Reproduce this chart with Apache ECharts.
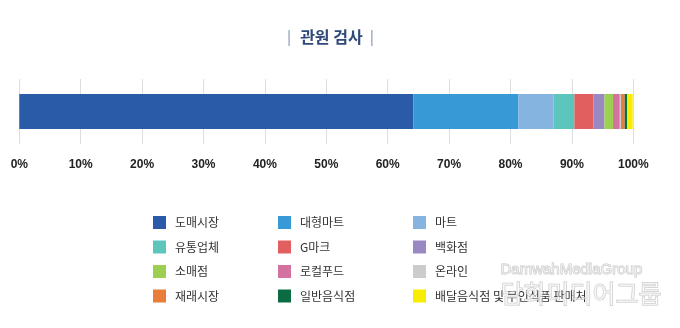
<!DOCTYPE html>
<html><head><meta charset="utf-8">
<script src="https://cdn.jsdelivr.net/npm/echarts@6/dist/echarts.min.js"></script>
<style>html,body{margin:0;padding:0;background:#fff}#c{width:680px;height:328px}</style>
</head><body><div id="c"></div>
<script>
const titleText = '관원 검사';
const categories = ['관원 검사'];
const seriesNames = ['도매시장','대형마트','마트','유통업체','G마크','백화점','소매점','로컬푸드','온라인','재래시장','일반음식점','배달음식점 및 무인식품 판매처'];
const seriesValues = [64.2, 17.1, 5.7, 3.4, 3.1, 1.8, 1.4, 1.1, 0.2, 0.6, 0.4, 0.9];
const seriesColors = ['#2a5ba8','#3799d6','#85b4e0','#5cc6bd','#e25f60','#9a88c3','#9dcf50','#d4719f','#cccccc','#ea7d39','#0b6b41','#f8ec00'];
const xTicks = [0,10,20,30,40,50,60,70,80,90,100];
const legendCols = [
  ['도매시장','유통업체','소매점','재래시장'],
  ['대형마트','G마크','로컬푸드','일반음식점'],
  ['마트','백화점','온라인','배달음식점 및 무인식품 판매처']
];
const legendLefts = [153, 278, 413];
const FONT = '"Noto Sans CJK KR", "Noto Sans", sans-serif';

const chart = echarts.init(document.getElementById('c'), null, {renderer:'canvas'});
const option = {
  animation: false,
  textStyle: {fontFamily: FONT},
  title: {
    text: '{bar||}{t|' + titleText + '}{bar||}',
    left: 282, top: 24, padding: [5, 5],
    textStyle: {
      rich: {
        t: {fontSize: 16, fontWeight: 'bold', color: '#2f4a78', fontFamily: FONT, padding: [0, 7, 0, 9]},
        bar: {fontSize: 14, color: '#9aaac4', fontFamily: FONT}
      }
    }
  },
  grid: {left: 19.3, right: 46.7, top: 79, bottom: 184, containLabel: false},
  xAxis: {
    type: 'value', min: 0, max: 100, interval: 10,
    axisLine: {show: false}, axisTick: {show: false},
    splitLine: {show: true, lineStyle: {color: '#dedede', width: 1}},
    axisLabel: {
      formatter: v => xTicks.includes(v) ? v + '%' : '',
      color: '#222', fontSize: 12, margin: 15, fontFamily: '"Liberation Sans Narrow", "Liberation Sans", sans-serif', fontWeight: 'bold'
    }
  },
  yAxis: {
    type: 'category', data: categories, show: false
  },
  legend: legendCols.map((col, i) => ({
    data: col, orient: 'vertical', left: legendLefts[i], top: 216, padding: 0,
    itemWidth: 13, itemHeight: 13, itemGap: 11.5, icon: 'rect',
    selectedMode: false,
    textStyle: {fontSize: 12, color: '#333', fontFamily: FONT, padding: [0,0,0,4]}
  })),
  series: seriesNames.map((n, i) => ({
    name: n, type: 'bar', stack: 'total', barWidth: 35,
    data: [seriesValues[i]],
    itemStyle: {color: seriesColors[i]},
    silent: true
  })),
  graphic: [
    {type: 'text', left: 500, top: 262, silent: true, z: 100,
     style: {text: 'DamwahMediaGroup', fontSize: 15, fontFamily: '"Liberation Sans", sans-serif', fill: 'rgba(255,255,255,0.55)', stroke: 'rgba(150,150,150,0.55)', lineWidth: 1}},
    {type: 'text', left: 500, top: 280, silent: true, z: 100,
     style: {text: '담화미디어그룹', fontSize: 25, fontFamily: FONT, fill: 'rgba(255,255,255,0.55)', stroke: 'rgba(150,150,150,0.55)', lineWidth: 1}}
  ]
};
chart.setOption(option);
</script></body></html>
